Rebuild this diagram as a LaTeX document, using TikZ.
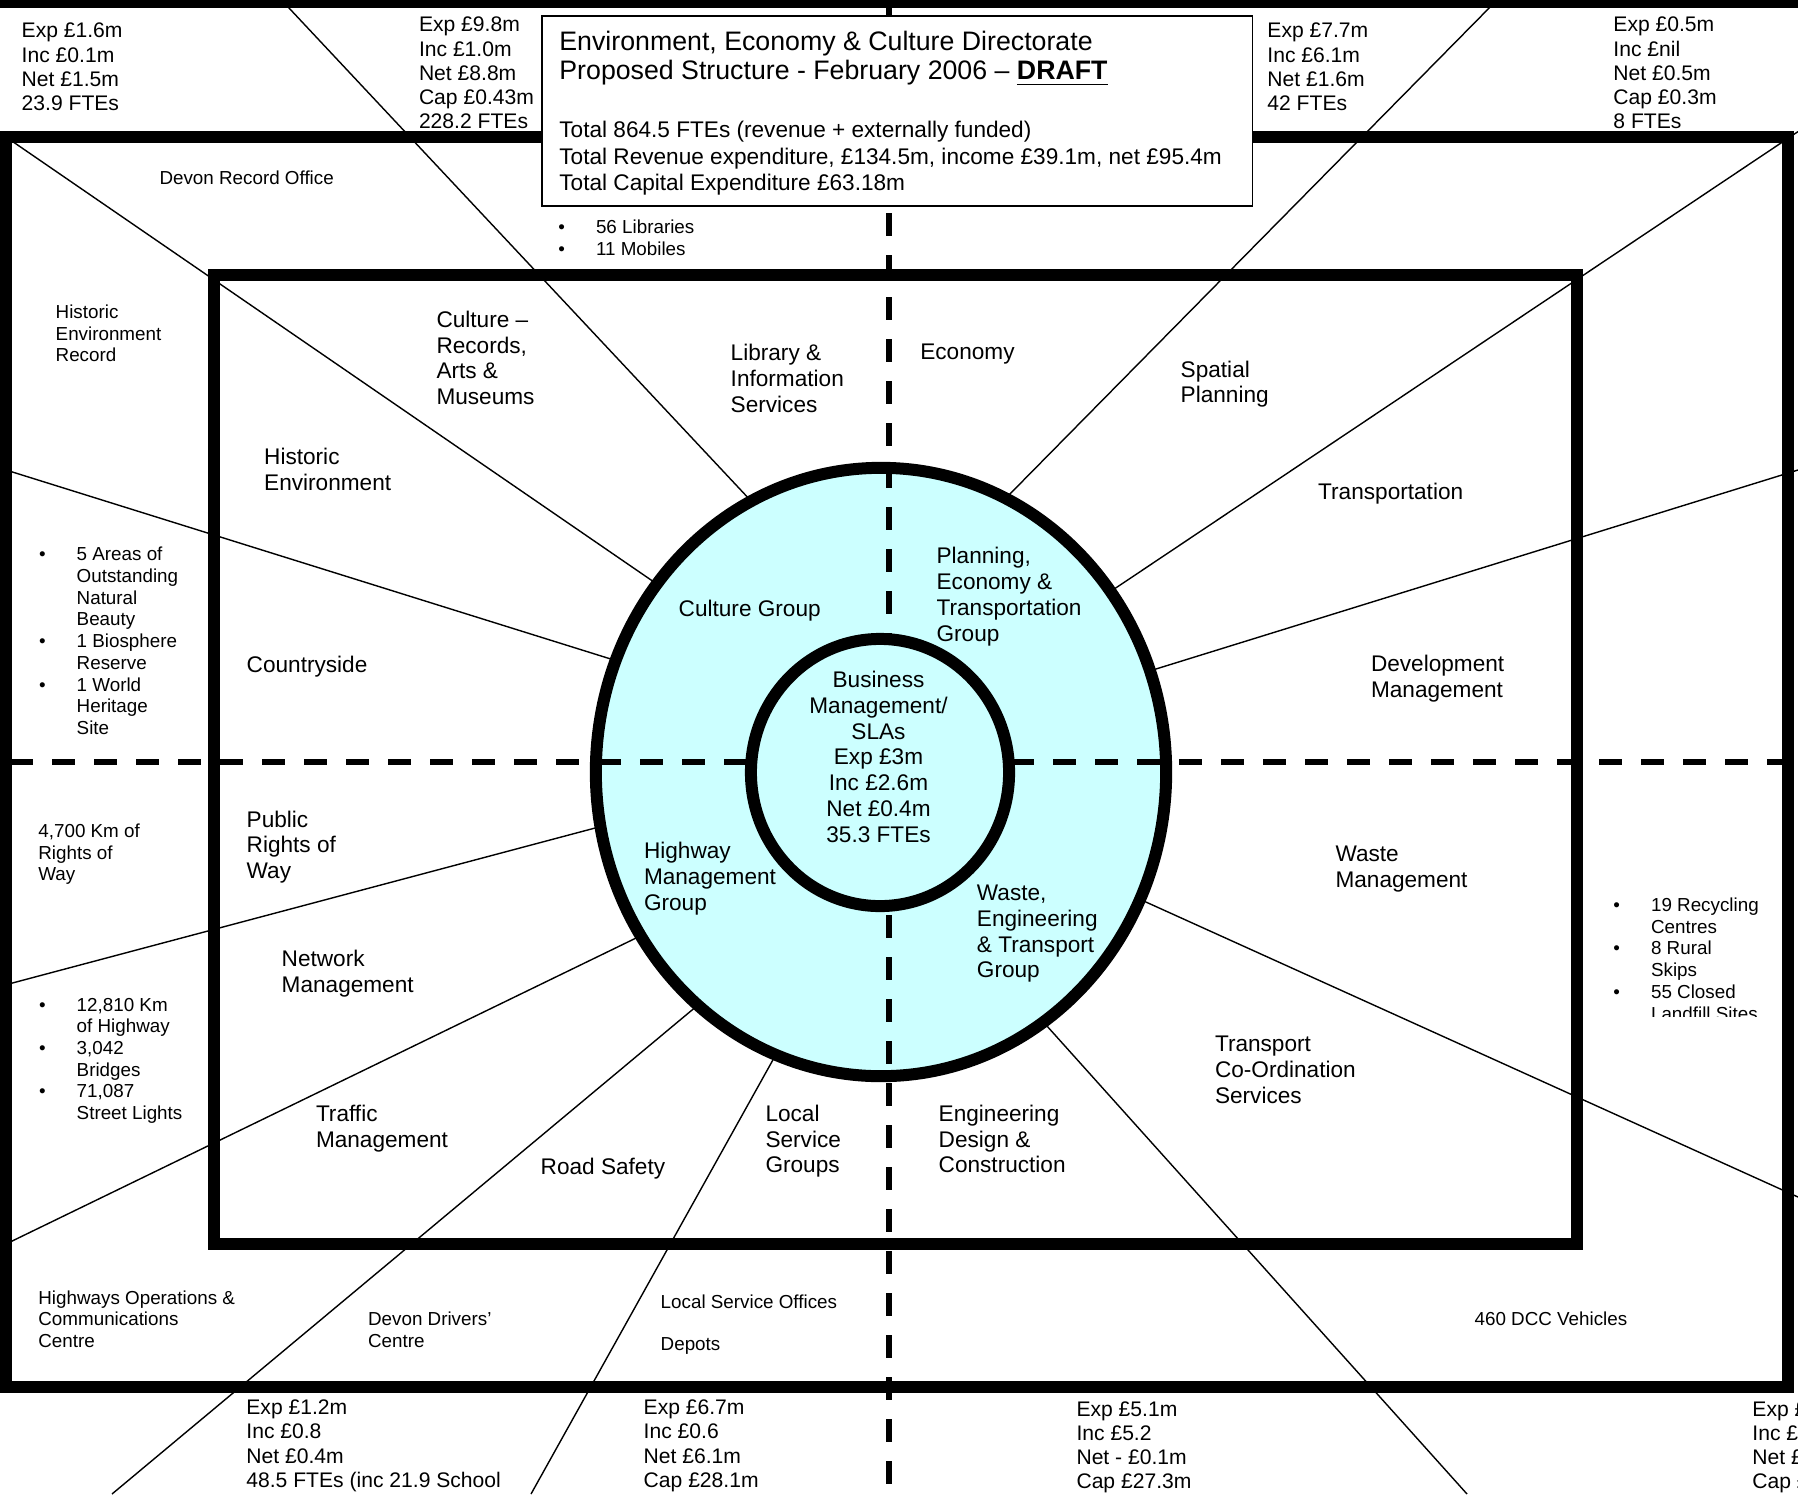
\documentclass[tikz,border=0pt]{standalone}
\usepackage{fontspec}
\setmainfont{Liberation Sans}
\definecolor{groupcyan}{RGB}{204,255,255}
% type sizes (one drawing unit = 0.01cm)
\newcommand\fsTitle{\fontsize{7.6pt}{8.25pt}\selectfont}
\newcommand\fsTotals{\fontsize{6.43pt}{7.48pt}\selectfont}
\newcommand\fsLabel{\fontsize{6.43pt}{7.34pt}\selectfont}
\newcommand\fsFig{\fontsize{6.0pt}{6.89pt}\selectfont}
\newcommand\fsNote{\fontsize{5.35pt}{6.17pt}\selectfont}
\newcommand\bul{\makebox[3.76mm][l]{\textbullet}}
\newcommand\bulgap{\hspace*{3.76mm}}
\begin{document}
\begin{tikzpicture}[x=0.01cm, y=-0.01cm,
  frame/.style={line width=3.41pt},
  spoke/.style={line width=0.4pt},
  divider/.style={line width=1.56pt, dash pattern=on 6.54pt off 5.41pt},
  ring/.style={draw, line width=3.41pt, fill=groupcyan},
  txt/.style={anchor=north west, inner sep=0pt, align=left},
  lbl/.style={txt, font=\fsLabel},
  fig/.style={txt, font=\fsFig},
  note/.style={txt, font=\fsNote}]
\useasboundingbox (0,0) rectangle (1798,1494);
\clip (0,0) rectangle (1798,1494);
\fill[white] (0,0) rectangle (1798,1494);

% ---- spoke end points ----
\coordinate (s1a) at (6,137);      \coordinate (s1b) at (667.5,591.3);
\coordinate (s2a) at (281.5,0);    \coordinate (s2b) at (759.5,510);
\coordinate (s3a) at (6,470);      \coordinate (s3b) at (627.7,664.3);
\coordinate (s4a) at (6,984.7);    \coordinate (s4b) at (614.3,822.9);
\coordinate (s5a) at (6,1244);     \coordinate (s5b) at (654,929.3);
\coordinate (s6a) at (112,1494);   \coordinate (s6b) at (710,995);
\coordinate (s7a) at (531,1494);   \coordinate (s7b) at (784,1040);
\coordinate (s8a) at (1467,1494);  \coordinate (s8b) at (1029,1006);
\coordinate (s9a) at (1798,1197);  \coordinate (s9b) at (1126,893);
\coordinate (s10a) at (1798,470);  \coordinate (s10b) at (1136.9,674.9);
\coordinate (s11a) at (1798,131.6);\coordinate (s11b) at (1099.1,599.1);
\coordinate (s12a) at (1497,0);    \coordinate (s12b) at (1004,500);
\foreach \s in {1,...,12} \draw[spoke] (s\s a) -- (s\s b);

% ---- frames ----
\draw[frame] (6,137) rectangle (1788,1387);
\draw[frame] (214,275) rectangle (1577,1243.5);

% ---- group ring ----
\coordinate (ctr) at (881,772);
\draw[ring] (ctr) ellipse [x radius=2.85cm, y radius=3.04cm];

% ---- quadrant dividers ----
\coordinate (hl0) at (10,762);   \coordinate (hl1) at (770,762);
\coordinate (hr0) at (1011,762); \coordinate (hr1) at (1798,762);
\coordinate (vt0) at (889,3);    \coordinate (vt1) at (889,660);
\coordinate (vb0) at (889,915);  \coordinate (vb1) at (889,1494);
\draw[divider] (hl0) -- (hl1);
\draw[divider] (hr0) -- (hr1);
\draw[divider] (vt0) -- (vt1);
\draw[divider] (vb0) -- (vb1);

% ---- business management core ----
\coordinate (core) at (880,772.5);
\draw[ring] (core) ellipse [x radius=1.29cm, y radius=1.335cm];

% ---- top band and title box ----
\fill (0,0) rectangle (1798,8);
\draw[line width=0.5pt, fill=white] (542,15.7) rectangle (1252.5,205.7);
\node[txt, font=\fsTitle] (title) at (558.7,30.4)
  {Environment, Economy \& Culture Directorate\\Proposed Structure - February 2006 -- \textbf{\underline{DRAFT}}};
\node[txt, font=\fsTotals] (totals) at (558.7,120.7)
  {Total 864.5 FTEs (revenue + externally funded)\\Total Revenue expenditure, £134.5m, income £39.1m, net £95.4m\\Total Capital Expenditure £63.18m};

% ---- budget figures ----
\node[fig] (f1) at (21,22.4) {Exp £1.6m\\Inc £0.1m\\Net £1.5m\\23.9 FTEs};
\node[fig] (f2) at (418.3,16.4) {Exp £9.8m\\Inc £1.0m\\Net £8.8m\\Cap £0.43m\\228.2 FTEs};
\node[fig] (f3) at (1266.7,22.4) {Exp £7.7m\\Inc £6.1m\\Net £1.6m\\42 FTEs};
\node[fig] (f4) at (1612.7,16.4) {Exp £0.5m\\Inc £nil\\Net £0.5m\\Cap £0.3m\\8 FTEs};
\node[fig] (f5) at (245.7,1399.1) {Exp £1.2m\\Inc £0.8\\Net £0.4m\\48.5 FTEs (inc 21.9 School};
\node[fig] (f6) at (643,1399.1) {Exp £6.7m\\Inc £0.6\\Net £6.1m\\Cap £28.1m};
\node[fig] (f7) at (1075.8,1400.7) {Exp £5.1m\\Inc £5.2\\Net - £0.1m\\Cap £27.3m};
\node[fig] (f8) at (1751.7,1400.7) {Exp £\\Inc £\\Net £\\Cap £};

% ---- notes in the outer band ----
\node[note] (n1) at (158.8,169.9) {Devon Record Office};
\node[note] (n2) at (55,304) {Historic\\Environment\\Record};
\node[note] (n3) at (557.7,219.2) {\bul 56 Libraries\\[0.2pt]\bul 11 Mobiles};
\node[note] (n4) at (38.4,546.5)
  {\bul 5 Areas of\\\bulgap Outstanding\\\bulgap Natural\\\bulgap Beauty\\\bul 1 Biosphere\\\bulgap Reserve\\\bul 1 World\\\bulgap Heritage\\\bulgap Site};
\node[note] (n5) at (37.7,823.2) {4,700 Km of\\Rights of\\Way};
\node[note] (n6) at (38.4,997.2)
  {\bul 12,810 Km\\\bulgap of Highway\\\bul 3,042\\\bulgap Bridges\\\bul 71,087\\\bulgap Street Lights};
\node[note] (n7) at (37.7,1289.9) {Highways Operations \&\\Communications\\Centre};
\node[note] (n8) at (367.4,1311.5) {Devon Drivers’\\Centre};
\node[note] (n9) at (660,1293.9) {Local Service Offices};
\node[note] (n10) at (660,1337.2) {Depots};
\node[note] (n11) at (1473.9,1311.5) {460 DCC Vehicles};
\begin{scope}
  \clip (1600,880) rectangle (1780,1016.7);
  \node[note] (n12) at (1612.7,897.2)
    {\bul 19 Recycling\\\bulgap Centres\\\bul 8 Rural\\\bulgap Skips\\\bul 55 Closed\\\bulgap Landfill Sites};
\end{scope}

% ---- service labels ----
\node[lbl] (l1) at (435.8,310.2) {Culture --\\Records,\\Arts \&\\Museums};
\node[lbl] (l2) at (730,343.6) {Library \&\\Information\\Services};
\node[lbl] (l3) at (263.5,447.6) {Historic\\Environment};
\node[lbl] (l4) at (246,655.2) {Countryside};
\node[lbl] (l5) at (919.6,342.8) {Economy};
\node[lbl] (l6) at (1180,360) {Spatial\\Planning};
\node[lbl] (l7) at (1317.5,482.7) {Transportation};
\node[lbl] (l8) at (1370.3,654.7) {Development\\Management};
\node[lbl] (l9) at (1334.8,845) {Waste\\Management};
\node[lbl] (l10) at (1214.3,1035.4) {Transport\\Co-Ordination\\Services};
\node[lbl] (l11) at (938,1104.2) {Engineering\\Design \&\\Construction};
\node[lbl] (l12) at (764.8,1104.2) {Local\\Service\\Groups};
\node[lbl] (l13) at (540,1156.9) {Road Safety};
\node[lbl] (l14) at (315.3,1104.2) {Traffic\\Management};
\node[lbl] (l15) at (281,949.4) {Network\\Management};
\node[lbl] (l16) at (246,809.9) {Public\\Rights of\\Way};

% ---- group labels ----
\node[lbl] (g1) at (678,599.5) {Culture Group};
\node[lbl] (g2) at (935.9,546.9) {Planning,\\Economy \&\\Transportation\\Group};
\node[lbl] (g3) at (643.3,841.5) {Highway\\Management\\Group};
\node[lbl] (g4) at (976.2,884.2) {Waste,\\Engineering\\\& Transport\\Group};
\node[lbl, anchor=north, align=center] (g5) at (878.5,670.3)
  {Business\\Management/\\SLAs\\Exp £3m\\Inc £2.6m\\Net £0.4m\\35.3 FTEs};
\end{tikzpicture}
\end{document}
